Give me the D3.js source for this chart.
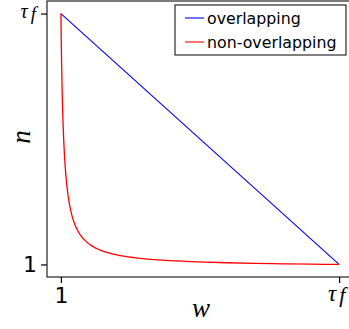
<!DOCTYPE html>
<html>
<head>
<meta charset="utf-8">
<script src="https://cdn.jsdelivr.net/npm/d3@7"></script>
<style>
  body { margin: 0; background: #fff; }
  svg { display: block; }
</style>
</head>
<body>
<script>
'use strict';

// tau_f read as ~100 from the picture
const tauF = 100;
const overlapW = [1, 100];
const overlapN = [100, 1];
const nonOverlapW = [1, 1.1, 1.25, 1.5, 1.75, 2, 2.5, 3, 3.5, 4, 5, 6, 7, 8, 10, 12, 15, 20, 25, 30, 40, 50, 60, 70, 80, 90, 100];
const nonOverlapN = [100, 90.9, 80, 66.7, 57.1, 50, 40, 33.3, 28.6, 25, 20, 16.7, 14.3, 12.5, 10, 8.33, 6.67, 5, 4, 3.33, 2.5, 2, 1.67, 1.43, 1.25, 1.11, 1];
const tickValues = [1, tauF];
const seriesNames = ['overlapping', 'non-overlapping'];
const seriesColors = ['#0000ff', '#ff0000'];

const svg = d3.select('body').append('svg')
  .attr('width', 349)
  .attr('height', 329);

const xScale = d3.scaleLinear().domain([-3.95, 104.95]).range([47, 353]);
const yScale = d3.scaleLinear().domain([-3.95, 104.95]).range([277, 1]);

const line = d3.line()
  .x(d => xScale(d[0]))
  .y(d => yScale(d[1]));

// lines
svg.append('path')
  .datum(overlapW.map((w, i) => [w, overlapN[i]]))
  .attr('d', line)
  .attr('fill', 'none')
  .attr('stroke', seriesColors[0])
  .attr('stroke-width', 1.1);

svg.append('path')
  .datum(nonOverlapW.map((w, i) => [w, nonOverlapN[i]]))
  .attr('d', d3.line().curve(d3.curveMonotoneX).x(d => xScale(d[0])).y(d => yScale(d[1])))
  .attr('fill', 'none')
  .attr('stroke', seriesColors[1])
  .attr('stroke-width', 1.3);

// frame
svg.append('rect')
  .attr('x', 47).attr('y', 1)
  .attr('width', 306).attr('height', 276)
  .attr('fill', 'none')
  .attr('stroke', '#222')
  .attr('stroke-width', 1.2);

function tauLabel(sel, size) {
  sel.text('');
  sel.append('tspan').text('\u03C4')
    .style('font-family', '"Liberation Serif", serif')
    .style('font-style', 'italic')
    .style('font-size', size + 'px');
  sel.append('tspan').text('f')
    .attr('dx', 3)
    .attr('dy', 1.5)
    .style('font-family', '"Liberation Serif", serif')
    .style('font-style', 'italic')
    .style('font-size', (size - 1) + 'px');
}

// x axis
const xAxis = d3.axisBottom(xScale).tickValues(tickValues).tickSize(6).tickPadding(4);
const gx = svg.append('g').attr('transform', 'translate(0,277)').call(xAxis);
gx.select('.domain').remove();
gx.selectAll('line').attr('stroke', '#000').attr('stroke-width', 1.2);
gx.selectAll('text')
  .style('font-family', '"DejaVu Sans", sans-serif')
  .style('font-size', '22px')
  .attr('fill', '#000')
  .each(function(d) {
    if (d === tauF) tauLabel(d3.select(this).attr('dx', -3).attr('y', 8), 23);
  });

// y axis
const yAxis = d3.axisLeft(yScale).tickValues(tickValues).tickSize(6).tickPadding(4);
const gy = svg.append('g').attr('transform', 'translate(47,0)').call(yAxis);
gy.select('.domain').remove();
gy.selectAll('line').attr('stroke', '#000').attr('stroke-width', 1.2);
gy.selectAll('text')
  .style('font-family', '"DejaVu Sans", sans-serif')
  .style('font-size', '22px')
  .attr('fill', '#000')
  .each(function(d) {
    if (d === tauF) tauLabel(d3.select(this).attr('dy', '0.2em').attr('x', -11), 20);
  });

// axis labels
svg.append('text')
  .attr('x', 201).attr('y', 317)
  .attr('text-anchor', 'middle')
  .style('font-family', '"Liberation Serif", serif')
  .style('font-style', 'italic')
  .style('font-size', '27px')
  .text('w');

svg.append('text')
  .attr('transform', 'translate(30,137)rotate(-90)')
  .attr('text-anchor', 'middle')
  .style('font-family', '"Liberation Serif", serif')
  .style('font-style', 'italic')
  .style('font-size', '27px')
  .text('n');

// legend
const legend = svg.append('g');
legend.append('rect')
  .attr('x', 175).attr('y', 5)
  .attr('width', 171).attr('height', 50)
  .attr('fill', '#fff')
  .attr('stroke', '#000')
  .attr('stroke-width', 1);

seriesNames.forEach((name, i) => {
  const y = 18 + i * 24;
  legend.append('line')
    .attr('x1', 185).attr('x2', 204)
    .attr('y1', y).attr('y2', y)
    .attr('stroke', seriesColors[i])
    .attr('stroke-width', 1.1);
  legend.append('text')
    .attr('x', 207).attr('y', y + 5.5)
    .style('font-family', '"DejaVu Sans", sans-serif')
    .style('font-size', '15.8px')
    .text(name);
});
</script>
</body>
</html>
